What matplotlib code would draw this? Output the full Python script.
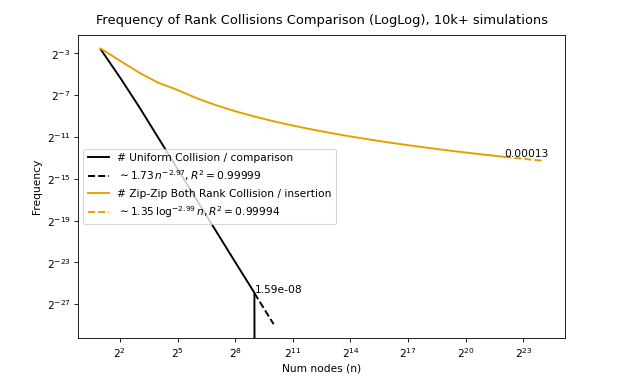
import numpy as np
import matplotlib
matplotlib.use("Agg")
import matplotlib.pyplot as plt
from matplotlib.ticker import NullLocator

# ---- data ----
uniform_n = [2**k for k in range(1, 11)]
uniform_freq = [0.163, 0.0254, 0.003594, 0.0004587, 5.855e-05, 7.472e-06,
                9.54e-07, 1.217e-07, 1.59e-08, 0.0]

zip_n = [2**k for k in range(1, 23)]
zip_freq = [0.171, 0.0769, 0.0347, 0.0177, 0.01098, 0.006362, 0.004013,
            0.002693, 0.001893, 0.001382, 0.0010395, 0.000801, 0.0006306,
            0.0005052, 0.0004109, 0.0003389, 0.0002826, 0.0002383,
            0.0002028, 0.0001738, 0.0001503, 0.0001307]

uniform_fit_coef, uniform_fit_exp = 1.73, -2.97
zip_fit_coef, zip_fit_exp = 1.35, -2.99
uniform_fit_range = [2**9, 2**10]
zip_fit_range = [2**22, 2**24]

xtick_exps = [2, 5, 8, 11, 14, 17, 20, 23]
ytick_exps = [-3, -7, -11, -15, -19, -23, -27]

title = "Frequency of Rank Collisions Comparison (LogLog), 10k+ simulations"
labels = ["# Uniform Collision / comparison",
          r"$\sim 1.73\,n^{-2.97}, R^2 = 0.99999$",
          "# Zip-Zip Both Rank Collision / insertion",
          r"$\sim 1.35\,\log^{-2.99} n, R^2 = 0.99994$"]

ORANGE = "#E69F00"
LW = 1.8

DPI = 76.7
fig = plt.figure(figsize=(628.3 / DPI, 381.3 / DPI), dpi=DPI)
ax = fig.add_axes([78 / 628, 43 / 381, 487 / 628, 303 / 381])
ax.set_xscale("log", base=2)
ax.set_yscale("log", base=2)

ax.plot(uniform_n, uniform_freq, color="black", lw=LW, label=labels[0])
ux = np.geomspace(*uniform_fit_range, 50)
ax.plot(ux, uniform_fit_coef * ux ** uniform_fit_exp, "--", color="black", lw=LW, label=labels[1])

ax.plot(zip_n, zip_freq, color=ORANGE, lw=LW, label=labels[2])
zx = np.geomspace(*zip_fit_range, 50)
ax.plot(zx, zip_fit_coef * np.log2(zx) ** zip_fit_exp, "--", color=ORANGE, lw=LW, label=labels[3])

ax.text(uniform_n[-2], uniform_freq[-2], f"{uniform_freq[-2]:.3g}")
ax.text(zip_n[-1], zip_freq[-1], f"{zip_freq[-1]:.2g}")

ax.set_xlim(2**-0.18, 2**25.18)
ax.set_ylim(2**-30.23, 2**-1.22)
ax.set_xticks([2.0**e for e in xtick_exps])
ax.set_yticks([2.0**e for e in ytick_exps])
ax.xaxis.set_minor_locator(NullLocator())
ax.yaxis.set_minor_locator(NullLocator())

ax.set_title(title, fontsize=12.2, pad=10)
ax.set_xlabel("Num nodes (n)")
ax.set_ylabel("Frequency")
ax.legend(loc="center left")

fig.savefig("out.png", dpi=DPI)
